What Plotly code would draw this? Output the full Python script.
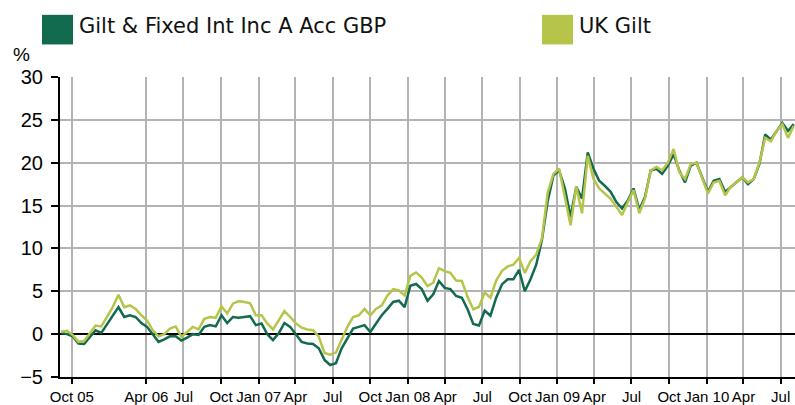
import pandas as pd
import plotly.graph_objects as go

# Fortnightly observation dates (cumulative % performance)
dates = pd.date_range(start="2005-09-05", periods=129, freq="14D")

fund_name = "Gilt & Fixed Int Inc A Acc GBP"
index_name = "UK Gilt"

fund_values = [
    0.15, 0.0, -0.25, -1.1, -1.15, -0.3, 0.45, 0.15, 1.15, 2.2,
    3.15, 2.0, 2.2, 2.0, 1.3, 0.85, 0.0, -0.9, -0.6, -0.25,
    -0.25, -0.75, -0.4, 0.0, -0.1, 0.85, 1.05, 0.9, 2.2, 1.3,
    2.0, 1.9, 2.0, 2.1, 1.05, 1.25, 0.0, -0.7, 0.1, 1.3,
    0.85, -0.1, -0.9, -1.1, -1.15, -1.65, -3.0, -3.6, -3.4, -1.65,
    -0.5, 0.65, 0.85, 1.05, 0.25, 1.25, 2.2, 2.95, 3.75, 3.9,
    3.15, 5.65, 5.85, 5.25, 3.9, 4.65, 6.2, 5.4, 5.25, 4.45,
    4.25, 2.9, 1.2, 1.0, 2.75, 2.15, 4.25, 5.8, 6.4, 6.4,
    7.5, 5.0, 6.4, 8.1, 11.0, 15.5, 18.5, 19.1, 17.0, 13.7,
    17.2, 15.8, 21.2, 19.3, 17.9, 17.3, 16.6, 15.4, 14.65, 15.6,
    17.0, 14.5, 16.0, 19.1, 19.3, 18.7, 19.65, 21.0, 19.1, 17.7,
    19.65, 20.0, 18.3, 16.6, 17.9, 18.1, 16.6, 17.2, 17.7, 18.3,
    17.5, 18.1, 19.85, 23.3, 22.7, 23.7, 24.65, 23.7, 24.5,
]

index_values = [
    0.27, 0.4, -0.1, -0.9, -0.8, 0.15, 1.0, 0.9, 2.0, 3.15,
    4.6, 3.15, 3.35, 2.95, 2.2, 1.6, 0.45, -0.25, 0.0, 0.65,
    0.9, -0.3, 0.25, 0.85, 0.55, 1.8, 2.0, 1.9, 3.25, 2.4,
    3.55, 3.85, 3.75, 3.6, 2.2, 2.2, 1.25, 0.55, 1.6, 2.7,
    2.0, 1.25, 0.75, 0.55, 0.45, -0.3, -2.2, -2.4, -2.15, -0.7,
    0.85, 2.0, 2.2, 2.95, 2.2, 2.95, 3.35, 4.5, 5.25, 5.1,
    4.5, 6.8, 7.2, 6.6, 5.6, 6.0, 7.7, 7.35, 7.15, 6.25,
    6.2, 4.35, 2.9, 3.2, 4.85, 4.25, 6.25, 7.35, 7.9, 8.1,
    8.9, 7.15, 8.5, 9.3, 11.2, 16.5, 18.7, 19.3, 16.2, 12.7,
    17.2, 14.1, 20.8, 18.1, 17.0, 16.4, 15.8, 14.85, 13.9, 15.4,
    16.8, 14.1, 15.8, 19.1, 19.5, 19.1, 20.0, 21.6, 18.9, 18.1,
    19.85, 20.0, 18.1, 16.4, 17.7, 17.9, 16.2, 17.2, 17.7, 18.3,
    17.7, 18.1, 20.0, 22.9, 22.5, 23.7, 24.5, 22.9, 24.3,
]

tick_dates = [
    "2005-10-01", "2006-04-01", "2006-07-01", "2006-10-01",
    "2007-01-01", "2007-04-01", "2007-07-01", "2007-10-01",
    "2008-01-01", "2008-04-01", "2008-07-01", "2008-10-01",
    "2009-01-01", "2009-04-01", "2009-07-01", "2009-10-01",
    "2010-01-01", "2010-04-01", "2010-07-01",
]
tick_labels = [
    "Oct 05", "Apr 06", "Jul", "Oct",
    "Jan 07", "Apr", "Jul", "Oct",
    "Jan 08", "Apr", "Jul", "Oct",
    "Jan 09", "Apr", "Jul", "Oct",
    "Jan 10", "Apr", "Jul",
]
y_ticks = [-5, 0, 5, 10, 15, 20, 25, 30]

fund_color = "#126a4f"
index_color = "#b6c54a"
grid_color = "#b3b3b3"

# plot-area geometry in pixels, used to place the legend and unit label
PLOT_LEFT, PLOT_WIDTH = 60, 735
PLOT_BOTTOM, PLOT_HEIGHT = 381, 304


def px_x(x):
    return (x - PLOT_LEFT) / PLOT_WIDTH


def px_y(y):
    return (PLOT_BOTTOM - y) / PLOT_HEIGHT


fig = go.Figure()
fig.add_trace(go.Scatter(
    x=dates, y=fund_values, mode="lines", name=fund_name,
    line=dict(color=fund_color, width=2.5), showlegend=False,
))
fig.add_trace(go.Scatter(
    x=dates, y=index_values, mode="lines", name=index_name,
    line=dict(color=index_color, width=2.5), showlegend=False,
))

fig.update_layout(
    width=795, height=405,
    margin=dict(l=60, r=0, t=77, b=24),
    paper_bgcolor="white", plot_bgcolor="white",
    font=dict(family="Liberation Sans, Arial, sans-serif", color="#000000"),
    xaxis=dict(
        type="date",
        range=["2005-09-02", "2010-08-05"],
        tickmode="array", tickvals=tick_dates, ticktext=tick_labels,
        tickfont=dict(size=15, family="Liberation Sans, Arial, sans-serif"),
        showgrid=True, gridcolor=grid_color, gridwidth=2,
        showline=True, linecolor="black", linewidth=2,
        ticks="outside", ticklen=5, tickwidth=2, tickcolor="black",
        zeroline=False,
    ),
    yaxis=dict(
        range=[-5, 30],
        tickmode="array", tickvals=y_ticks,
        tickfont=dict(size=20, family="Liberation Sans, Arial, sans-serif"),
        showgrid=True, gridcolor=grid_color, gridwidth=2,
        showline=True, linecolor="black", linewidth=2,
        ticks="outside", ticklen=7, tickwidth=2, tickcolor="black",
        zeroline=True, zerolinecolor="black", zerolinewidth=2,
        ticklabelstandoff=4,
    ),
    showlegend=False,
)

# Square-swatch legend across the top
legend_items = [(fund_name, fund_color, 42), (index_name, index_color, 542)]
for name, color, x0 in legend_items:
    fig.add_shape(
        type="rect", xref="paper", yref="paper",
        x0=px_x(x0), x1=px_x(x0 + 31),
        y0=px_y(44), y1=px_y(14),
        fillcolor=color, line=dict(width=0),
    )
    fig.add_annotation(
        xref="paper", yref="paper",
        x=px_x(x0 + 35), y=px_y(25),
        xanchor="left", yanchor="middle", showarrow=False,
        text=name, font=dict(size=21, family="DejaVu Sans, Verdana, sans-serif", color="#111111"),
    )

# Unit label above the value axis
fig.add_annotation(
    xref="paper", yref="paper",
    x=px_x(21), y=px_y(54),
    xanchor="center", yanchor="middle", showarrow=False,
    text="%", font=dict(size=19, family="Liberation Sans, Arial, sans-serif", color="#000000"),
)

fig.write_html("out.html")
